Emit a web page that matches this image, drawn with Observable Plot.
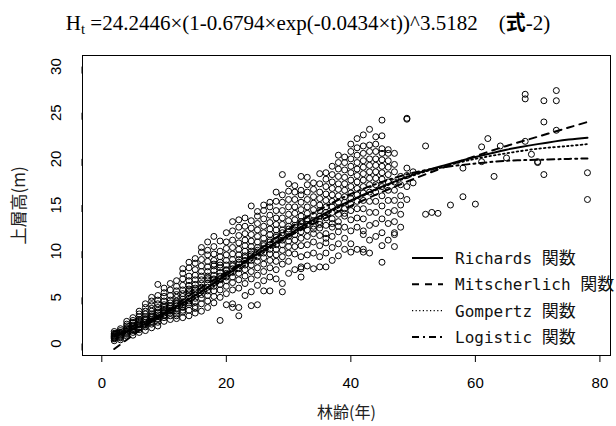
<!DOCTYPE html>
<html><head><meta charset="utf-8">
<script src="https://cdn.jsdelivr.net/npm/d3@7"></script>
<script src="https://cdn.jsdelivr.net/npm/@observablehq/plot@0.6"></script>
<style>
body{margin:0;background:#fff;width:616px;height:426px;overflow:hidden;position:relative}
#title{height:40px;font-family:"Liberation Serif","Times New Roman",serif;font-size:21px;text-align:center;line-height:44px;white-space:pre;color:#000}
#title sub{font-size:0.7em;vertical-align:-0.3em;line-height:0}
#title b{font-family:"Noto Sans CJK JP",sans-serif;font-size:0.95em}
#chart{position:absolute;left:0;top:40px}
#legend{position:absolute;left:405px;top:245px}
</style></head><body>
<div id="title">H<sub>t</sub> =24.2446×(1-0.6794×exp(-0.0434×t))^3.5182    (<b>式</b>-2)</div>
<div id="chart"></div>
<div id="legend"></div>
<script>
// ---- data ----
const xTicks = [0, 20, 40, 60, 80];
const yTicks = [0, 5, 10, 15, 20, 25, 30];

const standAges = [2,3,4,5,6,7,8,9,10,11,12,13,14,15,16,17,18,19,20,21,22,23,24,25,26,27,28,29,30,31,32,33,34,35,36,37,38,39,40,41,42,43,44,45,46,47,48,49,50,52,53,54,56,58,60,61,62,63,64,65,68,69,70,71,73,78];
const standHeights = [
  [0.3,0.5,0.6,0.7,0.8,0.9,1.0,1.1,0.6,0.8,1.3],
  [0.4,0.6,0.8,0.9,1.0,1.2,1.4,1.6,0.7,1.1],
  [0.8,1.0,1.2,1.3,1.5,1.7,1.9,2.1,2.4,1.1,1.6],
  [0.9,1.2,1.4,1.6,1.8,2.0,2.2,2.5,2.8,1.5,1.9,2.3],
  [1.2,1.5,1.8,2.0,2.2,2.4,2.6,2.9,3.2,1.7,2.1,2.5,3.5],
  [1.4,1.8,2.1,2.3,2.5,2.7,2.9,3.2,3.5,3.9,2.0,2.6,4.3],
  [1.7,2.1,2.4,2.6,2.8,3.0,3.2,3.5,3.8,4.2,4.6,2.3,2.9,5.0],
  [1.9,2.3,2.6,2.9,3.1,3.3,3.6,3.9,4.3,4.7,5.2,2.7,3.4,6.4],
  [2.4,2.8,3.0,3.3,3.5,3.7,4.0,4.2,4.6,5.1,5.5,6.0,3.1,3.9],
  [2.6,3.0,3.3,3.6,3.8,4.1,4.4,4.7,5.2,5.8,6.5,3.5,4.0],
  [2.7,3.2,3.5,3.8,4.1,4.3,4.6,5.0,5.3,5.7,6.2,6.8,4.4,3.0],
  [2.8,3.4,3.9,4.2,4.5,4.8,5.1,5.4,5.8,6.3,7.0,7.6,4.0,3.6,8.1],
  [3.0,3.6,4.2,4.6,4.9,5.2,5.5,5.9,6.3,6.8,7.3,8.2,4.4,5.7,8.8],
  [3.3,4.0,4.5,4.9,5.3,5.6,6.0,6.4,6.9,7.4,8.0,8.7,5.8,9.2,3.8],
  [3.5,4.3,4.9,5.3,5.7,6.1,6.5,6.9,7.3,7.8,8.4,9.1,9.9,6.0,10.4],
  [3.9,4.6,5.2,5.7,6.1,6.5,6.9,7.3,7.8,8.3,8.9,9.6,10.1,7.1,11.0],
  [4.4,5.1,5.7,6.2,6.6,7.0,7.4,7.9,8.4,9.0,9.7,10.5,11.6,6.9,8.6],
  [2.5,5.0,5.8,6.4,6.9,7.3,7.7,8.2,8.8,9.4,10.0,11.1,7.0,8.5],
  [4.2,5.4,6.2,6.8,7.2,7.6,8.0,8.5,9.0,9.6,10.3,11.0,12.0,7.9],
  [3.9,4.3,5.8,6.6,7.2,7.7,8.1,8.6,9.1,9.7,10.4,11.2,12.2,13.2,8.4],
  [3.0,3.9,6.0,6.9,7.6,8.1,8.6,9.1,9.6,10.2,10.9,11.7,12.6,13.4,8.8],
  [5.2,6.5,7.3,8.0,8.5,9.0,9.5,10.0,10.6,11.2,11.9,12.7,13.6,9.3],
  [4.1,5.6,7.0,7.8,8.5,9.0,9.5,10.0,10.5,11.1,11.8,12.5,13.3,14.9,9.7],
  [4.2,6.3,7.4,8.2,8.9,9.4,9.9,10.4,11.0,11.6,12.3,13.0,13.8,10.1,14.3],
  [5.7,6.8,7.8,8.6,9.3,9.8,10.3,10.8,11.4,12.0,12.7,13.5,14.4,10.6,15.0],
  [5.7,7.2,8.2,9.0,9.7,10.2,10.7,11.2,11.8,12.4,13.1,13.9,14.8,11.0,15.3],
  [7.0,8.0,8.9,9.6,10.2,10.7,11.2,11.7,12.3,12.9,13.6,14.4,15.4,16.4,11.5],
  [5.6,6.5,8.6,9.4,10.1,10.7,11.2,11.7,12.3,12.9,13.6,14.4,15.3,16.1,18.3,12.0],
  [7.6,8.9,9.8,10.5,11.1,11.6,12.1,12.7,13.3,14.0,14.8,15.6,16.5,17.3,12.4],
  [8.0,9.7,10.5,11.2,11.8,12.3,12.8,13.4,14.1,14.8,15.6,16.4,17.1,12.6],
  [7.2,8.1,8.3,9.4,10.6,11.4,12.1,12.7,13.2,13.8,14.5,15.3,16.1,16.6,18.1,13.0],
  [8.4,9.6,10.7,11.6,12.3,12.9,13.5,14.1,14.8,15.6,16.4,17.2,18.0,13.3],
  [8.1,9.8,11.0,11.9,12.7,13.3,13.9,14.5,15.2,15.9,16.7,17.4,12.4],
  [8.3,9.4,10.6,11.7,12.5,13.2,13.8,14.4,15.0,15.7,16.4,17.3,18.4,12.9],
  [8.3,9.8,10.9,11.9,12.8,13.6,14.2,14.8,15.5,16.2,17.0,17.8,18.5,11.4],
  [9.0,10.4,11.6,12.6,13.5,14.2,14.8,15.4,16.1,16.8,17.5,18.3,19.2,13.0],
  [9.5,10.8,12.1,13.2,14.0,14.7,15.3,16.0,16.7,17.3,18.1,18.9,19.6,20.4,12.7],
  [10.2,11.4,12.6,13.8,14.6,15.3,15.9,16.6,17.3,18.0,18.8,19.6,20.2,14.1],
  [9.9,10.8,12.2,13.4,14.4,15.1,15.7,16.3,17.0,17.7,18.5,19.2,20.0,20.8,21.6],
  [10.2,12.6,13.6,14.6,15.4,16.1,16.8,17.5,18.2,18.9,19.6,20.4,21.2,22.2],
  [9.9,10.2,12.2,13.5,14.6,15.5,16.3,17.0,17.7,18.4,19.1,19.8,20.6,21.4,22.6,11.8],
  [9.8,11.2,12.8,14.2,15.4,16.4,17.2,17.9,18.6,19.3,20.0,20.8,21.5,23.2],
  [11.6,13.0,14.2,15.4,16.4,17.2,17.9,18.6,19.3,20.0,20.8,21.6,22.4],
  [8.8,10.6,12.0,13.5,14.9,16.0,17.0,17.8,18.5,19.2,19.9,20.6,21.1,22.5,24.2],
  [11.2,13.0,14.2,15.5,16.6,17.5,18.3,19.1,19.8,20.6,21.0],
  [10.5,11.8,12.0,13.2,14.4,15.5,16.6,17.5,18.6,19.4,20.6],
  [12.6,14.0,15.0,16.0,17.2,18.1],
  [15.6,24.3,24.4,17.0,19.0,18.2],
  [17.4,18.6],
  [14.0,21.4],
  [14.2],
  [14.1],
  [15.0],
  [15.9,19.0],
  [15.1],
  [21.3,19.7],
  [22.2],
  [18.1],
  [21.4],
  [20.1],
  [27.0,26.5,21.9],
  [20.5],
  [19.6,19.7],
  [26.3,24.0,18.3],
  [27.4,26.3,23.1],
  [18.5,15.6]
];

const curveAges    = [2, 5, 10, 15, 20, 25, 30, 35, 40, 45, 50, 55, 60, 65, 70, 75, 78];
const richards     = [0.8, 1.5, 3.2, 5.2, 7.4, 9.7, 11.8, 13.8, 15.5, 17.0, 18.3, 19.3, 20.2, 21.0, 21.6, 22.1, 22.3];
const mitscherlich = [-0.6, 0.9, 3.3, 5.6, 7.7, 9.7, 11.6, 13.3, 14.9, 16.4, 17.8, 19.1, 20.3, 21.4, 22.4, 23.4, 24.0];
const gompertz     = [1.0, 1.6, 3.0, 4.9, 7.1, 9.4, 11.6, 13.6, 15.4, 16.9, 18.2, 19.2, 20.0, 20.6, 21.1, 21.4, 21.6];
const logistic     = [1.3, 1.9, 3.3, 5.2, 7.5, 10.0, 12.4, 14.5, 16.2, 17.5, 18.5, 19.1, 19.5, 19.8, 19.9, 20.0, 20.05];

const seriesNames = ["Richards 関数", "Mitscherlich 関数", "Gompertz 関数", "Logistic 関数"];
const seriesValues = [richards, mitscherlich, gompertz, logistic];
const seriesDash = [null, "7,6", "1.6,3", "7,4,2,4"];
const seriesWidth = [2, 2, 1.8, 2];

// ---- build tables ----
const points = standAges.flatMap((a, i) => standHeights[i].map(h => ({age: a, h})));
const curves = seriesNames.map((name, k) => curveAges.map((a, i) => ({age: a, h: seriesValues[k][i]})));

const chart = Plot.plot({
  width: 616, height: 386,
  marginTop: 15, marginBottom: 71, marginLeft: 82, marginRight: 6,
  style: {fontFamily: "'Liberation Sans', Arial, sans-serif", fontSize: "15px", color: "#000", background: "#fff"},
  x: {domain: [-3.1, 81.7]},
  y: {domain: [-1.3, 31.2]},
  marks: [
    Plot.frame({stroke: "#000", strokeWidth: 1}),
    Plot.axisX(xTicks, {tickSize: 7, tickPadding: 15, label: null, fontSize: 15}),
    Plot.axisY(yTicks, {tickSize: 7, tickPadding: 19, label: null, rotate: -90, textAnchor: "middle", fontSize: 15}),
    Plot.text(["林齢(年)"], {frameAnchor: "bottom", dy: 62, fontSize: 16, fontFamily: "'Noto Sans CJK JP', sans-serif", fill: "#222"}),
    Plot.text(["上層高(m)"], {frameAnchor: "left", textAnchor: "middle", dx: -63, rotate: -90, fontSize: 17, fontFamily: "'Noto Sans CJK JP', sans-serif", fill: "#222"}),
    Plot.dot(points, {x: "age", y: "h", r: 3, stroke: "#000", strokeWidth: 1, fill: "none"}),
    ...curves.map((c, k) => Plot.line(c, {x: "age", y: "h", curve: "catmull-rom", stroke: "#000", strokeWidth: seriesWidth[k], strokeDasharray: seriesDash[k]}))
  ]
});
document.getElementById("chart").appendChild(chart);

// ---- legend (inside plot, at the lower right) ----
const leg = d3.select("#legend").append("svg").attr("width", 211).attr("height", 105);
seriesNames.forEach((name, k) => {
  const y = 13 + k * 26.3;
  leg.append("line").attr("x1", 7).attr("x2", 38).attr("y1", y).attr("y2", y)
    .attr("stroke", "#000").attr("stroke-width", k === 2 ? 1.2 : 2)
    .attr("stroke-dasharray", k === 2 ? "1.2,2.4" : seriesDash[k]);
  const [latin, cjk] = name.split(" ");
  const t = leg.append("text").attr("x", 50).attr("y", y + 6).attr("font-size", 16)
    .attr("font-family", "'DejaVu Sans Mono', monospace").attr("fill", "#111");
  t.append("tspan").text(latin + " ");
  t.append("tspan").attr("font-family", "'Noto Sans CJK JP', sans-serif").attr("font-size", 17).text(cjk);
});
</script>
</body></html>
